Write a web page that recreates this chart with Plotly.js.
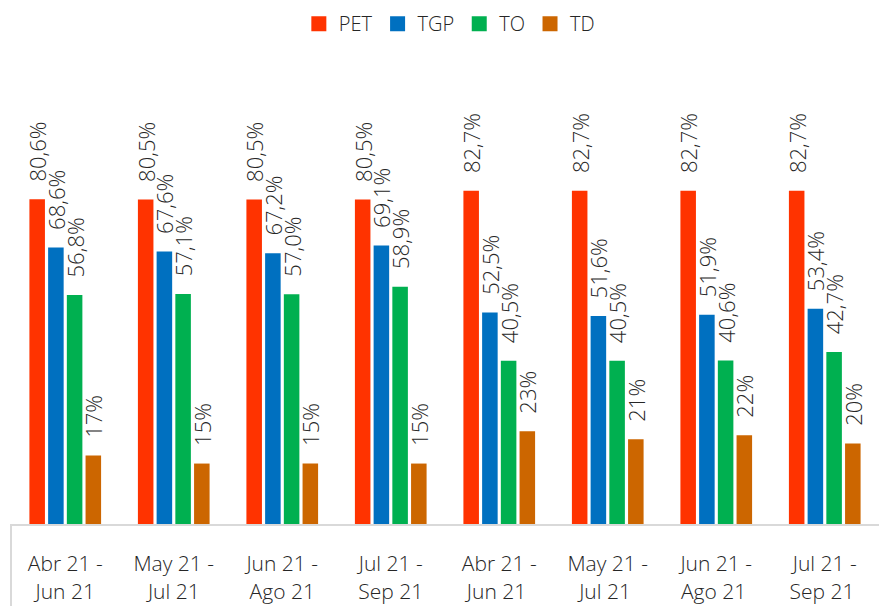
<!DOCTYPE html>
<html>
<head>
<meta charset="utf-8">
<script src="https://cdn.plot.ly/plotly-3.0.1.min.js"></script>
<style>html,body{margin:0;padding:0;background:#fff;}#chart{width:879px;height:606px;}</style>
</head>
<body>
<div id="chart"></div>
<script>
const categories = ["Abr 21 -<br>Jun 21","May 21 -<br>Jul 21","Jun 21 -<br>Ago 21","Jul 21 -<br>Sep 21","Abr 21 -<br>Jun 21 ","May 21 -<br>Jul 21 ","Jun 21 -<br>Ago 21 ","Jul 21 -<br>Sep 21 "];
const PET = [80.6, 80.5, 80.5, 80.5, 82.7, 82.7, 82.7, 82.7];
const TGP = [68.6, 67.6, 67.2, 69.1, 52.5, 51.6, 51.9, 53.4];
const TO  = [56.8, 57.1, 57.0, 58.9, 40.5, 40.5, 40.6, 42.7];
const TD  = [17, 15, 15, 15, 23, 21, 22, 20];

const seriesNames = ["PET","TGP","TO","TD"];
const seriesData = [PET, TGP, TO, TD];
const seriesDecimals = [1, 1, 1, 0];
const colors = ["#FF3300","#0070C0","#00B050","#CC6600"];
const FONT = "'Open Sans', 'Noto Sans', sans-serif";
const GAP = "\u2002\u2009";

const traces = seriesData.map((vals, i) => ({
  type: "bar",
  name: seriesNames[i],
  x: categories,
  y: vals,
  marker: {color: colors[i]},
  text: vals.map(v => GAP + v.toFixed(seriesDecimals[i]).replace(".", ",") + "%"),
  textposition: "outside",
  textangle: -90,
  constraintext: "none",
  cliponaxis: false,
  textfont: {family: FONT, size: 22, color: "#262626", weight: 300},
  hoverinfo: "none",
  showlegend: false
}));

// legend-only entries with larger square symbols
seriesNames.forEach((n, i) => {
  traces.push({
    type: "scatter", mode: "markers", name: n,
    x: [null], y: [null],
    marker: {symbol: "square", size: 15, color: colors[i]},
    showlegend: true, hoverinfo: "none"
  });
});

const layout = {
  width: 879, height: 606,
  margin: {l: 11, r: 0, t: 121, b: 82},
  paper_bgcolor: "#fff", plot_bgcolor: "#fff",
  barmode: "group",
  bargap: 0.31,
  bargroupgap: 0.17,
  font: {family: FONT, color: "#262626"},
  xaxis: {
    type: "category",
    showline: true, linecolor: "#d9d9d9", linewidth: 2,
    ticks: "", showgrid: false, zeroline: false,
    tickfont: {family: FONT, size: 21, color: "#262626", weight: 300},
    ticklabelstandoff: 20
  },
  yaxis: {range: [0, 100], visible: false, showgrid: false, zeroline: false},
  legend: {
    orientation: "h", x: 0.505, xanchor: "center", y: 1.29, yanchor: "top",
    font: {family: FONT, size: 20, color: "#262626", weight: 300},
    itemwidth: 30, tracegroupgap: 0
  },
  shapes: [{type: "line", xref: "paper", yref: "paper", x0: 0, x1: 0, y0: 0, y1: -0.25,
    line: {color: "#d9d9d9", width: 2}}],
  showlegend: true
};

Plotly.newPlot("chart", traces, layout, {staticPlot: true});
</script>
</body>
</html>
